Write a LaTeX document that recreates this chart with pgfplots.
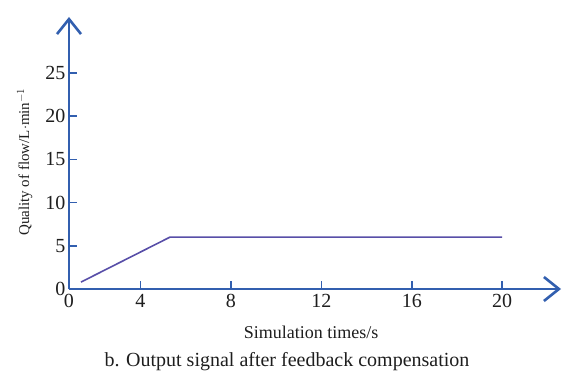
\documentclass[border=0pt]{standalone}
\usepackage{pgfplots}
\pgfplotsset{compat=1.18}
\usetikzlibrary{arrows.meta}
\usepackage{fontspec}
\setmainfont{Liberation Serif}
\definecolor{axblue}{RGB}{50,95,175}
\definecolor{linepurple}{RGB}{88,78,168}
\definecolor{txt}{RGB}{30,30,30}
\begin{document}
\begin{tikzpicture}
\useasboundingbox (0,0) rectangle (566bp,372bp);
\begin{axis}[
  at={(69bp,83bp)}, anchor=south west,
  scale only axis, width=492bp, height=272bp,
  axis lines=left,
  axis line style={draw=axblue, line width=2.6bp, -{Straight Barb[length=15bp,width=24bp,line width=2.6bp]}},
  xmin=0.84, xmax=22.6, ymin=0, ymax=31.5,
  xtick={0.84,4,8,12,16,20}, xticklabels={0,4,8,12,16,20},
  ytick={0,5,10,15,20,25},
  tick style={draw=axblue, line width=1.6bp},
  major tick length=8bp,
  tick align=inside,
  /pgf/number format/assume math mode=true,
  tick label style={font=\fontsize{20bp}{22bp}\selectfont, text=txt},
  xticklabel style={yshift=-2bp},
  yticklabel style={xshift=0bp},
  xlabel={Simulation times/s},
  ylabel={Quality of flow/L$\cdot$min$^{-1}$},
  xlabel style={font=\fontsize{18bp}{20bp}\selectfont, text=txt, at={(axis description cs:0.492,-0.158)}, anchor=center},
  ylabel style={font=\fontsize{15bp}{17bp}\selectfont, text=txt, at={(axis description cs:-0.09,0.467)}, anchor=center},
  clip=false,
]
\addplot[linepurple, line width=1.6bp] coordinates {(1.37,0.8) (5.3,6.0) (20.0,6.0)};
\node[font=\fontsize{20bp}{22bp}\selectfont, text=txt, anchor=center] at (axis description cs:0.443,-0.268) {b. Output signal after feedback compensation};
\end{axis}
\end{tikzpicture}
\end{document}
